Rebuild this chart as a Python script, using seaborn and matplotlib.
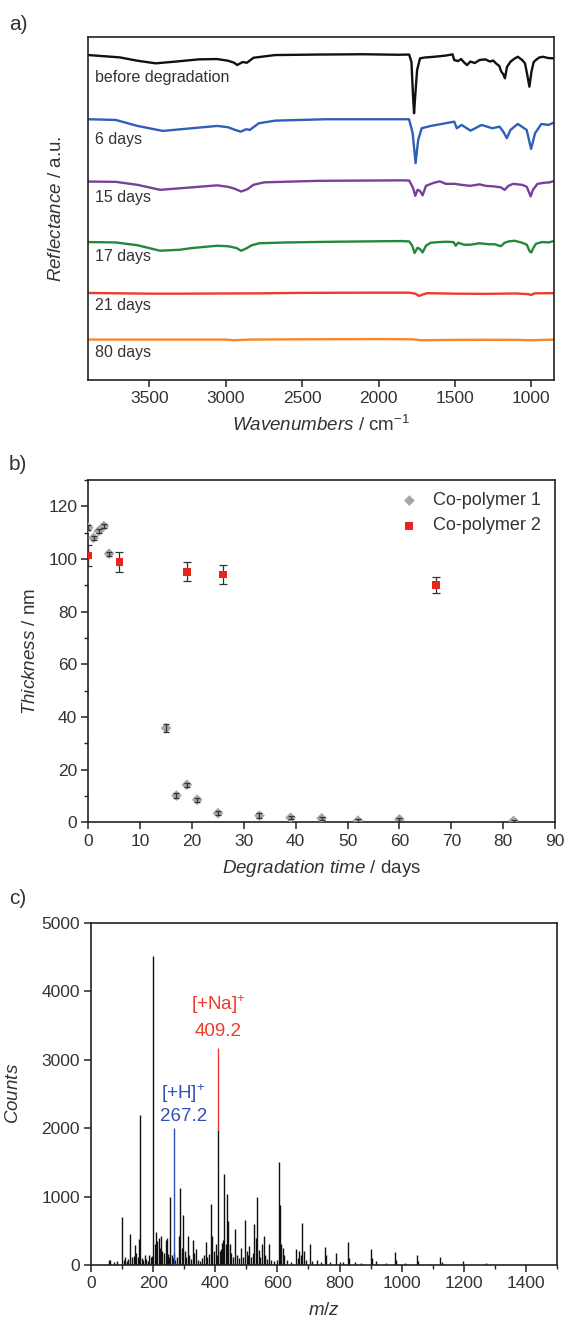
import numpy as np
import matplotlib.pyplot as plt
from matplotlib.ticker import MultipleLocator
import seaborn as sns

sns.set_style('ticks')
plt.rcParams['font.family'] = ['Liberation Sans', 'DejaVu Sans']
plt.rcParams['mathtext.fontset'] = 'custom'
plt.rcParams['mathtext.rm'] = 'Liberation Sans'
plt.rcParams['mathtext.it'] = 'Liberation Sans:italic'
plt.rcParams['mathtext.default'] = 'regular'

TXT = '#333333'
SPINE = '#222222'

# ---- panel a: IR reflectance spectra (offset, a.u.) ----
wn_before = [3900, 3696, 3578, 3459, 3341, 3175, 3057, 2985, 2945, 2926, 2890, 2862, 2819, 2677,
             2400, 2100, 1871, 1800, 1785, 1775, 1768, 1760, 1748, 1729, 1700, 1634, 1560, 1516,
             1505, 1480, 1460, 1440, 1421, 1400, 1370, 1340, 1303, 1270, 1250, 1232, 1210, 1197,
             1185, 1173, 1160, 1137, 1110, 1089, 1060, 1042, 1028, 1013, 1000, 985, 971, 950,
             924, 890, 853]
r_before = [325, 322.7, 319.3, 316.7, 318.3, 320.7, 321, 319.3, 317.3, 315, 318, 317.3, 322.3, 325,
            325.5, 325.8, 325.3, 325.5, 318, 285, 266.7, 285, 310, 321.7, 322.5, 323.3, 324.5, 325.7,
            320, 319, 321, 317.5, 315, 318.5, 317, 320, 320.7, 318.5, 319.5, 316.7, 314, 308.3,
            306, 301.7, 313, 318.3, 321.5, 323.3, 320, 316.7, 306, 293.3, 308, 318, 320, 322.5,
            323.3, 322, 321.7]

wn_6d = [3900, 3720, 3578, 3412, 3222, 3057, 2985, 2939, 2902, 2867, 2843, 2784, 2677, 2346,
         1801, 1777, 1758, 1741, 1718, 1659, 1540, 1505, 1488, 1457, 1398, 1326, 1256, 1208,
         1180, 1161, 1137, 1089, 1031, 1002, 976, 935, 888, 853]
r_6d = [260.7, 260, 254, 249, 251.7, 254, 252.7, 250, 248.3, 250.7, 250, 256.7, 259.3, 260.7,
        260.7, 246.7, 216.7, 240, 251.7, 254, 257.3, 258.3, 251.7, 255, 249.3, 255, 251.7, 253.3,
        247.3, 241.7, 250, 256, 250, 231, 246.7, 256, 255, 257.3]

wn_15d = [3900, 3720, 3578, 3430, 3222, 3057, 2985, 2940, 2900, 2860, 2820, 2750, 2400, 1850,
          1800, 1775, 1760, 1745, 1730, 1712, 1690, 1640, 1600, 1560, 1500, 1460, 1400, 1340,
          1300, 1250, 1200, 1175, 1150, 1120, 1060, 1030, 1005, 990, 960, 920, 880, 850]
r_15d = [198.3, 198, 195, 190, 192.5, 194.5, 193, 191, 188.3, 190.5, 195, 197.5, 199, 199.5,
         199.3, 192, 184, 190, 189, 184.5, 194, 197, 198.5, 196, 196, 195, 194, 195.5,
         194, 193.5, 192.5, 190, 194, 196, 195, 193, 183.5, 190, 196, 197, 197.5, 199]

wn_17d = [3900, 3720, 3578, 3430, 3300, 3222, 3057, 2985, 2930, 2900, 2870, 2830, 2780, 2600,
          2300, 1850, 1800, 1780, 1765, 1745, 1728, 1712, 1690, 1660, 1620, 1560, 1510, 1495,
          1480, 1440, 1400, 1340, 1280, 1240, 1200, 1175, 1150, 1110, 1060, 1030, 1010, 1000,
          990, 970, 930, 890, 850]
r_17d = [137.7, 137.3, 134.5, 129, 130, 131.7, 134, 133.5, 131.7, 129, 131, 134.5, 136.5, 137.3,
         138, 138.7, 138.3, 134, 126.7, 132, 130.5, 127.3, 134, 137, 137.5, 138, 137.7, 134,
         137, 135, 135, 136.5, 135.5, 135.5, 133.5, 137, 138.3, 139, 137, 135, 128, 127.3,
         131, 136, 137.7, 137.3, 138.7]

wn_21d = [3900, 3500, 3300, 3000, 2800, 2500, 2000, 1800, 1760, 1735, 1715, 1680, 1500, 1300,
          1100, 1020, 1000, 980, 850]
r_21d = [86.7, 86, 86, 86.2, 86.3, 86.8, 87, 87, 86, 83.7, 85, 86.5, 86, 85.8,
         86.2, 85.5, 84.7, 86.3, 86.5]

wn_80d = [3900, 3500, 3000, 2950, 2850, 2500, 2000, 1780, 1720, 1500, 1300, 1100, 1000, 850]
r_80d = [40, 40, 40, 39.3, 40, 40.3, 40.5, 40.3, 39.3, 39.7, 39.8, 39.7, 39.3, 40]

spectra_labels = ['before degradation', '6 days', '15 days', '17 days', '21 days', '80 days']
spectra_colors = ['#111111', '#2f5fb8', '#7a3f9d', '#22883a', '#ec3b2e', '#f5892c']
label_heights = [302.7, 240.7, 182.7, 123.3, 74, 26.7]

# ---- panel b: film thickness vs degradation time ----
days_cp1 = [0, 1, 2, 3, 4, 15, 17, 19, 21, 25, 33, 39, 45, 52, 60, 82]
thick_cp1 = [111.9, 108, 110.6, 112.5, 102, 35.8, 10.2, 14.3, 8.6, 3.5, 2.6, 1.8, 1.6, 0.7, 1.2, 0.6]
err_cp1 = [1.0, 0.8, 0.8, 0.8, 0.8, 1.4, 0.8, 0.8, 0.8, 0.8, 1.0, 0.6, 0.6, 0.5, 0.6, 0.4]
days_cp2 = [0, 6, 19, 26, 67]
thick_cp2 = [101.3, 98.8, 95.2, 94.1, 90.0]
err_cp2 = [4.0, 3.7, 3.5, 3.5, 3.0]

# ---- panel c: mass spectrum ----
mz = [58, 61, 75, 85, 100, 105, 110, 115, 120, 127, 133, 138, 141, 145, 150, 155, 157, 163, 168,
      173, 178, 183, 188, 193, 197, 201, 205, 209, 213, 218, 222, 225, 230, 235, 240, 244, 248,
      252, 255, 260, 263, 267, 272, 278, 283, 287, 292, 297, 301, 305, 311, 317, 322, 329, 333,
      338, 345, 352, 358, 363, 369, 375, 380, 386, 391, 396, 401, 405, 409, 414, 418, 422, 425,
      429, 433, 438, 441, 446, 452, 458, 465, 470, 478, 484, 490, 497, 502, 507, 510, 515, 520,
      526, 530, 535, 540, 545, 551, 556, 561, 567, 574, 580, 590, 600, 606, 609, 613, 617, 622,
      630, 645, 659, 665, 670, 675, 680, 685, 692, 705, 712, 729, 740, 753, 758, 770, 790, 800,
      810, 827, 832, 850, 870, 900, 905, 918, 950, 977, 982, 1010, 1049, 1054, 1090, 1124, 1130,
      1197, 1270]
counts = [70, 75, 40, 60, 700, 80, 120, 60, 90, 460, 110, 130, 290, 180, 120, 380, 2200, 100, 70,
          150, 90, 60, 150, 110, 130, 4520, 300, 480, 350, 400, 250, 430, 200, 180, 370, 400, 160,
          120, 1000, 150, 100, 170, 80, 120, 420, 1130, 250, 730, 200, 120, 420, 150, 90, 370, 180,
          240, 80, 60, 100, 140, 330, 120, 160, 890, 430, 200, 310, 150, 1970, 200, 230, 320, 370,
          1330, 300, 1040, 640, 300, 180, 120, 520, 140, 100, 250, 120, 660, 200, 150, 280, 120, 180,
          600, 400, 1000, 220, 120, 300, 430, 150, 90, 310, 80, 60, 80, 1510, 880, 300, 250, 150,
          70, 50, 240, 100, 200, 150, 610, 200, 70, 300, 60, 80, 40, 260, 140, 50, 180, 40,
          50, 340, 100, 40, 30, 240, 100, 60, 30, 190, 80, 30, 150, 60, 20, 120, 40,
          55, 25]
mz_h, h_top, h_base = 267.2, 2000, 0
mz_na, na_top, na_base = 409.2, 3170, 1970

fig = plt.figure(figsize=(5.68, 13.21), dpi=100)


def style_axes(ax):
    for s in ax.spines.values():
        s.set_visible(True)
        s.set_color(SPINE)
        s.set_linewidth(1.2)
    ax.tick_params(which='major', direction='out', length=5, width=1.1, color=SPINE,
                   labelsize=12.5, labelcolor=TXT, pad=3)
    ax.tick_params(which='minor', direction='out', length=3, width=1.0, color=SPINE)


# ---------- a ----------
ax_a = fig.add_axes([0.1555, 0.7127, 0.8204, 0.2590])
wns = [wn_before, wn_6d, wn_15d, wn_17d, wn_21d, wn_80d]
rs = [r_before, r_6d, r_15d, r_17d, r_21d, r_80d]
for w, r, c in zip(wns, rs, spectra_colors):
    sns.lineplot(x=w, y=r, ax=ax_a, color=c, lw=1.7, estimator=None)
for lab, hgt in zip(spectra_labels, label_heights):
    ax_a.text(3858, hgt, lab, fontsize=11.5, color=TXT, va='center', ha='left')
ax_a.set_xlim(3900, 850)
ax_a.set_ylim(0, 342.7)
ax_a.set_xticks([3500, 3000, 2500, 2000, 1500, 1000])
ax_a.set_yticks([])
style_axes(ax_a)
ax_a.set_xlabel(r'$\mathit{Wavenumbers}$ / cm$^{-1}$', fontsize=13.5, color=TXT, labelpad=7)
ax_a.set_ylabel(r'$\mathit{Reflectance}$ / a.u.', fontsize=13.5, color=TXT)
ax_a.yaxis.set_label_coords(-0.05, 0.5)

# ---------- b ----------
ax_b = fig.add_axes([0.1555, 0.3774, 0.8216, 0.2593])
sns.scatterplot(x=days_cp1, y=thick_cp1, ax=ax_b, marker='D', s=30, color='#aaa4a9',
                edgecolor='none', label='Co-polymer 1', zorder=3)
ax_b.errorbar(days_cp1, thick_cp1, yerr=err_cp1, fmt='none', ecolor='#333333',
              elinewidth=0.9, capsize=2.5, capthick=0.9, zorder=4)
ax_b.errorbar(days_cp2, thick_cp2, yerr=err_cp2, fmt='none', ecolor='#333333',
              elinewidth=0.9, capsize=3, capthick=0.9, zorder=4)
sns.scatterplot(x=days_cp2, y=thick_cp2, ax=ax_b, marker='s', s=32, color='#e8241c',
                edgecolor='none', label='Co-polymer 2', zorder=5)
ax_b.set_xlim(0, 90)
ax_b.set_ylim(0, 130)
ax_b.xaxis.set_major_locator(MultipleLocator(10))
ax_b.yaxis.set_major_locator(MultipleLocator(20))
ax_b.yaxis.set_minor_locator(MultipleLocator(10))
style_axes(ax_b)
ax_b.set_xlabel(r'$\mathit{Degradation\ time}$ / days', fontsize=13.5, color=TXT, labelpad=7)
ax_b.set_ylabel(r'$\mathit{Thickness}$ / nm', fontsize=13.5, color=TXT)
ax_b.yaxis.set_label_coords(-0.105, 0.5)
ax_b.legend(loc='upper right', bbox_to_anchor=(0.985, 0.985), borderaxespad=0, frameon=False,
            fontsize=13, labelcolor=TXT, handlelength=1.0, handletextpad=0.8, labelspacing=0.45)

# ---------- c ----------
ax_c = fig.add_axes([0.1602, 0.0424, 0.8204, 0.2589])
ax_c.vlines(mz, 0, counts, color='#111111', lw=1.0)
ax_c.vlines([mz_h], [h_base], [h_top], color='#2d52b0', lw=1.0, zorder=3)
ax_c.vlines([mz_na], [na_base], [na_top], color='#ec3b2e', lw=1.0, zorder=3)
ax_c.text(mz_h + 30, 2510, '[+H]$^{+}$', color='#2d52b0', fontsize=13.5, ha='center', va='center')
ax_c.text(mz_h + 30, 2170, '267.2', color='#2d52b0', fontsize=13.5, ha='center', va='center')
ax_c.text(mz_na, 3800, '[+Na]$^{+}$', color='#ec3b2e', fontsize=13.5, ha='center', va='center')
ax_c.text(mz_na, 3410, '409.2', color='#ec3b2e', fontsize=13.5, ha='center', va='center')
ax_c.set_xlim(0, 1500)
ax_c.set_ylim(0, 5000)
ax_c.xaxis.set_major_locator(MultipleLocator(200))
ax_c.xaxis.set_minor_locator(MultipleLocator(100))
ax_c.yaxis.set_major_locator(MultipleLocator(1000))
style_axes(ax_c)
ax_c.set_xlabel(r'$\mathit{m/z}$', fontsize=13.5, color=TXT, labelpad=8)
ax_c.set_ylabel(r'$\mathit{Counts}$', fontsize=13.5, color=TXT)
ax_c.yaxis.set_label_coords(-0.148, 0.5)

for lab, y in [('a)', 25), ('b)', 465), ('c)', 899)]:
    fig.text(9 / 568, 1 - y / 1321, lab, fontsize=15, color=TXT, va='center', ha='left')

fig.savefig('out.png', dpi=100)
